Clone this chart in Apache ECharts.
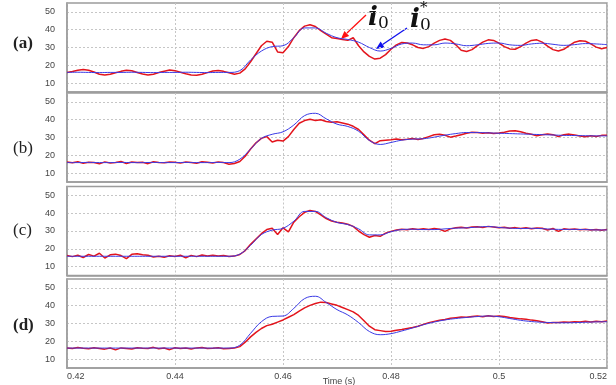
<!DOCTYPE html>
<html>
<head>
<meta charset="utf-8">
<script src="https://cdn.jsdelivr.net/npm/echarts@6.0.0/dist/echarts.min.js"></script>
<style>
html, body { margin: 0; padding: 0; background: #fff; }
#chart { width: 616px; height: 385px; }
</style>
</head>
<body>
<div id="chart"></div>
<script>
// sample times (s) for the measured (red) and reference (blue) traces
var tMeas = [
    0.420, 0.421, 0.422, 0.423, 0.424, 0.425, 0.426, 0.427, 0.428, 0.429,
    0.430, 0.431, 0.432, 0.433, 0.434, 0.435, 0.436, 0.437, 0.438, 0.439,
    0.440, 0.441, 0.442, 0.443, 0.444, 0.445, 0.446, 0.447, 0.448, 0.449,
    0.450, 0.451, 0.452, 0.453, 0.454, 0.455, 0.456, 0.457, 0.458, 0.459,
    0.460, 0.461, 0.462, 0.463, 0.464, 0.465, 0.466, 0.467, 0.468, 0.469,
    0.470, 0.471, 0.472, 0.473, 0.474, 0.475, 0.476, 0.477, 0.478, 0.479,
    0.480, 0.481, 0.482, 0.483, 0.484, 0.485, 0.486, 0.487, 0.488, 0.489,
    0.490, 0.491, 0.492, 0.493, 0.494, 0.495, 0.496, 0.497, 0.498, 0.499,
    0.500, 0.501, 0.502, 0.503, 0.504, 0.505, 0.506, 0.507, 0.508, 0.509,
    0.510, 0.511, 0.512, 0.513, 0.514, 0.515, 0.516, 0.517, 0.518, 0.519,
    0.520
];
var tRef = [
    0.420, 0.422, 0.424, 0.426, 0.428, 0.430, 0.432, 0.434, 0.436, 0.438,
    0.440, 0.442, 0.444, 0.446, 0.448, 0.450, 0.452, 0.454, 0.456, 0.458,
    0.460, 0.462, 0.464, 0.466, 0.468, 0.470, 0.472, 0.474, 0.476, 0.478,
    0.480, 0.482, 0.484, 0.486, 0.488, 0.490, 0.492, 0.494, 0.496, 0.498,
    0.500, 0.502, 0.504, 0.506, 0.508, 0.510, 0.512, 0.514, 0.516, 0.518,
    0.520
];

// panel (a)
var measA = [
    16.0, 16.5, 17.2, 17.6, 17.2, 16.2, 15.0, 14.6, 15.0, 15.8,
    16.6, 17.2, 16.9, 16.0, 15.1, 14.5, 15.0, 15.9, 16.7, 17.3,
    17.0, 16.1, 15.2, 14.6, 14.4, 15.0, 15.9, 16.8, 17.1, 16.6,
    15.8, 15.0, 15.6, 18.0, 22.0, 26.5, 31.0, 33.5, 33.0, 27.5,
    27.0, 30.5, 35.5, 39.5, 42.0, 42.8, 41.8, 39.5, 37.5, 35.5,
    35.0, 34.5, 34.0, 35.5, 31.0, 27.5, 25.0, 23.5, 24.0, 26.0,
    29.0, 31.5, 32.8, 32.5, 31.5, 30.0, 29.5, 30.5, 32.5, 34.0,
    34.8, 34.0, 31.5, 28.5, 27.8, 28.8, 31.0, 33.0, 34.3, 34.0,
    32.5, 30.5, 29.2, 29.0, 30.5, 32.5, 34.0, 34.3, 33.0, 30.8,
    28.8, 28.0, 29.0, 31.0, 33.0, 33.8, 33.5, 32.0, 30.2, 29.3,
    30.0
];
var refA = [
    16.0, 16.1, 16.0, 15.9, 16.0, 16.0, 16.1, 16.0, 15.9, 16.0,
    16.0, 16.1, 16.0, 15.9, 16.0, 16.0, 17.0, 23.0, 28.0, 30.5,
    31.0, 35.5, 41.0, 41.0, 38.0, 35.5, 34.5, 33.0, 30.0, 28.0,
    29.5, 32.0, 32.5, 31.5, 31.5, 32.5, 32.0, 31.0, 31.5, 32.3,
    32.5, 31.5, 31.2, 32.0, 32.4, 31.8, 31.2, 31.6, 32.2, 32.0,
    31.6
];

// panel (b)
var measB = [
    16.2, 15.8, 16.4, 15.5, 16.1, 15.9, 15.2, 16.3, 15.7, 16.0,
    16.5, 15.4, 16.2, 15.9, 16.1, 15.3, 16.4, 16.0, 15.8, 16.3,
    16.1, 15.6, 16.2, 16.0, 15.5, 16.4, 16.1, 15.7, 16.3, 15.9,
    15.0, 15.4, 16.5, 19.5, 23.5, 27.0, 29.5, 30.5, 27.5, 28.5,
    28.0, 30.5, 34.5, 38.0, 39.5, 40.2, 39.6, 40.0, 39.0, 38.6,
    38.8, 38.2, 37.5, 36.3, 34.5, 31.5, 28.5, 26.5, 28.2, 28.5,
    28.8, 29.2, 28.7, 29.0, 29.4, 28.9, 29.5, 30.5, 31.5, 31.8,
    31.3, 30.2, 30.8, 31.6, 32.4, 33.0, 32.8, 32.4, 32.7, 32.2,
    32.5, 33.0, 33.6, 33.8, 33.2, 32.4, 31.8, 31.0, 31.5, 32.0,
    31.6, 30.6, 31.5, 31.9, 31.4, 30.8, 30.4, 31.0, 30.6, 31.2,
    31.3
];
var refB = [
    15.9, 15.9, 16.0, 15.9, 15.9, 16.0, 15.9, 15.9, 16.0, 15.9,
    15.9, 16.0, 15.9, 15.9, 16.0, 15.9, 17.8, 23.5, 29.5, 31.8,
    33.2, 37.0, 42.3, 43.6, 40.5, 37.5, 36.2, 33.5, 28.3, 26.1,
    27.2, 28.5, 29.1, 29.3, 30.2, 31.3, 32.2, 32.8, 32.8, 32.6,
    32.4, 32.2, 32.0, 31.8, 31.6, 31.4, 31.2, 31.1, 31.0, 30.9,
    30.9
];

// panel (c)
var measC = [
    16.2, 15.6, 16.4, 15.1, 16.8, 15.9, 17.5, 14.8, 16.6, 17.0,
    16.2, 14.5, 16.9, 17.2, 16.6, 16.4, 15.4, 15.8, 15.2, 16.1,
    15.7, 16.4, 15.0, 16.3, 15.6, 16.5, 16.0, 16.4, 15.9, 16.2,
    15.7, 15.9, 16.8, 19.0, 22.5, 25.5, 28.5, 30.8, 31.5, 28.0,
    31.8, 29.5, 35.0, 38.0, 40.5, 41.5, 41.0, 39.0, 37.0, 35.6,
    34.9, 34.5, 33.8, 32.6, 30.0, 28.0, 26.5, 27.5, 27.0, 28.8,
    29.8, 30.6, 31.0, 30.7, 31.2, 30.9, 31.3, 30.8, 31.4, 31.0,
    29.8, 31.2, 31.8, 32.1, 31.7, 32.3, 32.4, 32.0, 32.6, 32.3,
    31.8, 32.1, 31.6, 31.9, 31.4, 31.8, 31.3, 31.7, 31.5, 30.6,
    31.4, 29.8, 31.2, 30.9, 31.1, 30.7, 31.0, 30.6, 30.9, 30.4,
    30.8
];
var refC = [
    15.8, 15.8, 15.8, 15.8, 15.8, 15.8, 15.8, 15.8, 15.8, 15.8,
    15.8, 15.8, 15.8, 15.8, 15.8, 15.8, 17.0, 22.0, 28.0, 30.5,
    31.5, 35.5, 41.0, 41.0, 37.5, 34.8, 33.6, 31.2, 27.8, 27.8,
    29.6, 30.8, 31.0, 30.8, 30.8, 31.2, 31.6, 31.8, 32.2, 32.5,
    32.0, 31.6, 31.4, 31.5, 31.3, 31.0, 30.9, 30.9, 30.8, 30.6,
    30.6
];

// panel (d)
var measD = [
    16.3, 15.9, 16.5, 16.1, 15.8, 16.4, 16.0, 15.6, 16.2, 15.2,
    16.3, 16.0, 15.7, 16.4, 16.1, 15.9, 16.6, 15.8, 16.2, 15.3,
    16.4, 16.0, 16.2, 15.7, 16.3, 16.5, 15.9, 16.1, 16.4, 15.8,
    16.0, 16.2, 17.0, 19.5, 22.5, 25.0, 27.2, 28.8, 29.6, 30.8,
    32.0, 33.5, 35.0, 37.0, 38.8, 40.2, 41.2, 42.0, 41.8, 41.0,
    40.2, 39.0, 37.8, 36.5, 34.5, 31.5, 28.5, 26.5, 26.0, 25.5,
    25.6, 26.2, 26.6, 27.2, 27.8, 28.5, 29.5, 30.5, 31.2, 31.8,
    32.3, 32.9, 33.3, 33.6, 33.5, 33.9, 34.2, 33.8, 34.3, 34.0,
    34.2, 33.9, 33.4, 33.0, 32.6, 32.4, 31.9, 31.5, 31.0, 30.3,
    30.6, 30.5, 30.8, 30.7, 31.0, 30.8, 31.2, 30.9, 31.3, 31.0,
    31.4
];
var refD = [
    16.2, 16.2, 16.2, 16.2, 16.2, 16.2, 16.2, 16.2, 16.2, 16.2,
    16.2, 16.2, 16.2, 16.2, 16.2, 16.2, 17.8, 24.5, 31.0, 34.0,
    34.2, 38.5, 44.0, 45.3, 41.8, 37.8, 34.8, 30.5, 25.5, 23.7,
    24.3, 25.8, 27.5, 29.3, 30.8, 32.0, 32.8, 33.4, 33.9, 34.2,
    33.8, 32.8, 31.8, 31.1, 30.7, 30.5, 30.4, 30.5, 30.7, 30.9,
    31.0
];

var panelNames = ['(a)', '(b)', '(c)', '(d)'];
var measAll = [measA, measB, measC, measD];
var refAll = [refA, refB, refC, refD];
var yTicks = [10, 20, 30, 40, 50];

var chart = echarts.init(document.getElementById('chart'));

var tops = [3, 93, 186.5, 279];
var labelY = [44, 149, 231, 326];
var frameColor = '#9c9c9c';
var gridLine = { show: true, lineStyle: { color: '#c6c6c6', type: [2, 2], width: 1 } };

var grids = [], xAxes = [], yAxes = [], series = [], graphics = [];

function zip(xs, ys) {
    var out = [];
    for (var i = 0; i < xs.length; i++) out.push([xs[i], ys[i]]);
    return out;
}

for (var k = 0; k < 4; k++) {
    grids.push({
        left: 67, right: 9, top: tops[k], height: 89,
        show: true, borderColor: frameColor, borderWidth: 1.5
    });
    xAxes.push({
        type: 'value', gridIndex: k, min: 0.42, max: 0.52, interval: 0.02,
        axisLine: { show: true, lineStyle: { color: frameColor, width: 1.5 } },
        axisTick: { show: false },
        axisLabel: {
            show: k === 3, color: '#444', fontSize: 9, fontFamily: 'Arial',
            margin: 4, alignMinLabel: 'left', alignMaxLabel: 'right'
        },
        splitLine: gridLine
    });
    yAxes.push({
        type: 'value', gridIndex: k, min: 5, max: 55,
        axisLine: { show: true, lineStyle: { color: frameColor, width: 1.5 } },
        axisTick: { show: false, customValues: yTicks },
        axisLabel: { customValues: yTicks, color: '#444', fontSize: 9, fontFamily: 'Arial', margin: 12 },
        splitLine: gridLine
    });
    series.push({
        type: 'line', xAxisIndex: k, yAxisIndex: k,
        data: zip(tMeas, measAll[k]),
        showSymbol: false, z: 3,
        lineStyle: { color: '#e3141c', width: 1.5 }
    });
    series.push({
        type: 'line', xAxisIndex: k, yAxisIndex: k,
        data: zip(tRef, refAll[k]),
        showSymbol: false, smooth: 0.4, z: 4,
        lineStyle: { color: '#3a3ae6', width: 1 }
    });
    graphics.push({
        type: 'text', left: 13, top: labelY[k] - 9,
        style: {
            text: panelNames[k], fill: '#222',
            font: (k === 0 || k === 3 ? 'bold ' : '') + '17px "Liberation Serif"'
        }
    });
}

// axis title
graphics.push({
    type: 'text', x: 339, y: 382,
    style: { text: 'Time (s)', fill: '#444', font: '9px Arial', textAlign: 'center', textVerticalAlign: 'middle' }
});

// i0 annotation with red arrow
graphics.push(
    { type: 'text', x: 368, y: 18, style: { text: 'i', fill: '#111', font: 'italic bold 26px "DejaVu Serif"', textVerticalAlign: 'middle' } },
    { type: 'text', x: 378, y: 24, style: { text: '0', fill: '#111', font: '17px "DejaVu Serif"', textVerticalAlign: 'middle' } },
    { type: 'line', shape: { x1: 366, y1: 15, x2: 347, y2: 33 }, style: { stroke: '#ff1010', lineWidth: 1.3 } },
    { type: 'polygon', shape: { points: [[341, 39], [349.2, 36.0], [344.4, 31.0]] }, style: { fill: '#ff1010' } }
);

// i0* annotation with blue arrow
graphics.push(
    { type: 'text', x: 410, y: 20, style: { text: 'i', fill: '#111', font: 'italic bold 26px "DejaVu Serif"', textVerticalAlign: 'middle' } },
    { type: 'text', x: 420, y: 26, style: { text: '0', fill: '#111', font: '17px "DejaVu Serif"', textVerticalAlign: 'middle' } },
    { type: 'text', x: 420, y: 1, style: { text: '*', fill: '#111', font: '15px "DejaVu Serif"', textVerticalAlign: 'top' } },
    { type: 'line', shape: { x1: 407, y1: 28, x2: 382.6, y2: 44.5 }, style: { stroke: '#1010ee', lineWidth: 1.3 } },
    { type: 'polygon', shape: { points: [[376, 49], [384.6, 47.4], [380.6, 41.6]] }, style: { fill: '#1010ee' } }
);

chart.setOption({
    animation: false,
    backgroundColor: '#fff',
    grid: grids,
    xAxis: xAxes,
    yAxis: yAxes,
    series: series,
    graphic: { elements: graphics }
});
</script>
</body>
</html>
